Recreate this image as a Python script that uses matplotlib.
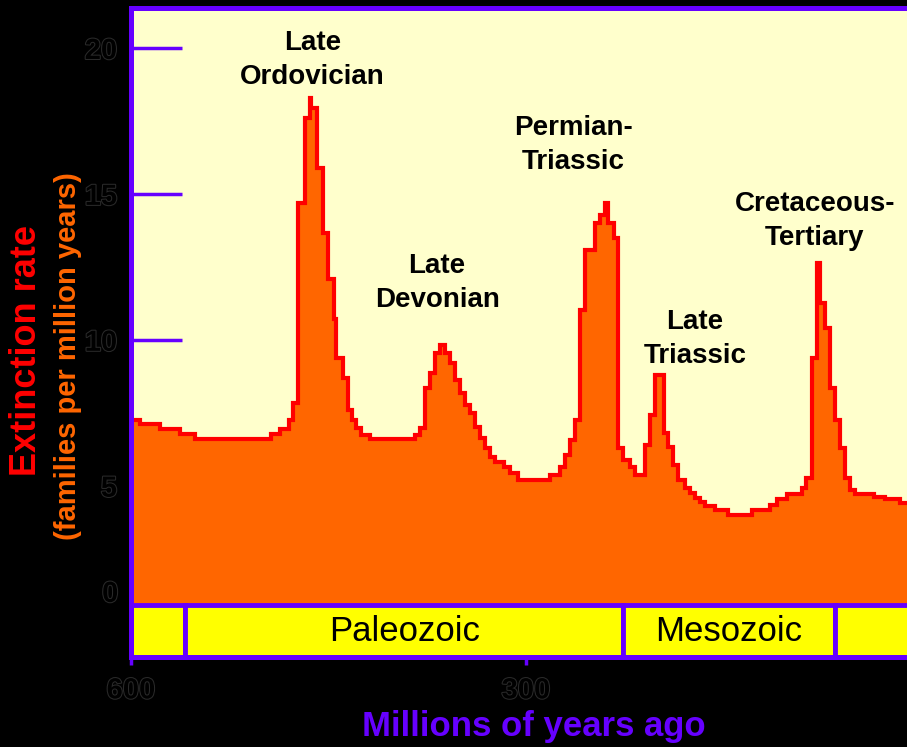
import matplotlib.pyplot as plt
import matplotlib.patheffects as pe
from matplotlib.patches import Rectangle

# step edges (millions of years ago) and extinction rate for each step
ages = [600, 593, 578, 563, 551, 494, 487, 480, 477, 473, 468, 464, 463, 459,
        454, 450, 446, 444, 439, 435, 432, 429, 425, 418.5, 384, 380.5, 377,
        373, 369, 365, 361.5, 358, 354, 350, 346, 342.5, 339, 335, 331, 327,
        323.5, 317, 312, 306, 282, 274, 270, 266.5, 263, 259, 255, 247.5, 244,
        240, 237.5, 233.5, 230, 226, 221, 217, 209.5, 206, 202, 195.5, 192,
        188, 184.5, 179, 175.5, 171.5, 168, 164, 156.5, 146.5, 128.5, 114.5,
        109.5, 102, 90.5, 87, 83, 79, 76.5, 73, 69, 65.5, 61.5, 57.5, 54, 50,
        36, 27.5, 16, 0]
rates = [7.25, 7.11, 6.94, 6.77, 6.60, 6.77, 6.94, 7.25, 7.83, 14.68, 17.6,
         18.28, 17.94, 15.88, 13.65, 12.1, 10.7, 9.37, 8.69, 7.6, 7.25, 6.97,
         6.74, 6.60, 6.74, 6.97, 8.34, 8.86, 9.55, 9.82, 9.55, 9.2, 8.62, 8.17,
         7.77, 7.49, 7.01, 6.63, 6.29, 5.99, 5.81, 5.64, 5.43, 5.20, 5.37,
         5.64, 6.05, 6.57, 7.25, 11.02, 13.08, 14.0, 14.28, 14.68, 14.0, 13.49,
         6.29, 5.88, 5.64, 5.37, 6.39, 7.42, 8.79, 6.8, 6.33, 5.71, 5.2, 4.92,
         4.75, 4.58, 4.44, 4.30, 4.17, 4.0, 4.17, 4.34, 4.54, 4.71, 4.92, 5.26,
         9.37, 12.63, 11.26, 10.4, 8.34, 7.25, 6.29, 5.26, 4.85, 4.71, 4.61,
         4.54, 4.4]

events = ["Late\nOrdovician", "Late\nDevonian", "Permian-\nTriassic",
          "Late\nTriassic", "Cretaceous-\nTertiary"]
event_age = [462, 367.5, 264, 171.5, 80.5]
event_y = [19.6, 11.93, 16.68, 10.03, 14.07]

era_bounds = [600, 559, 226, 65.5, 0]
era_names = ["", "Paleozoic", "Mesozoic", ""]

yticks = [5, 10, 15, 20]
xticks = [600, 300, 0]

PURPLE = "#6600ff"
CREAM = "#ffffcc"
ORANGE = "#ff6600"

plt.rcParams["font.family"] = ["Liberation Sans", "DejaVu Sans"]

fig = plt.figure(figsize=(9.07, 7.47), dpi=100, facecolor="black")
ax = fig.add_axes([0.1444, 0.1205, 0.871, 0.8688])
ax.set_facecolor(CREAM)

ybot, ytop = -0.87, 21.37
band_top = 0.91

y_steps = rates + [rates[-1]]
ax.fill_between(ages, y_steps, ybot, step="post", color=ORANGE, lw=0, zorder=2)
ax.plot(ages, y_steps, drawstyle="steps-post", color="#ff0000", lw=3,
        solid_joinstyle="miter", zorder=3)

# geological era band along the bottom
for i, name in enumerate(era_names):
    a0, a1 = era_bounds[i], era_bounds[i + 1]
    ax.add_patch(Rectangle((a1, ybot), a0 - a1, band_top - ybot,
                           facecolor="#ffff00", edgecolor=PURPLE, lw=3.5,
                           zorder=4))
    if name:
        ax.text((a0 + a1) / 2, (band_top + ybot) / 2, name, ha="center",
                va="center", fontsize=25, color="black", zorder=5)

for lab, a, y in zip(events, event_age, event_y):
    ax.text(a, y, lab, ha="center", va="center", fontsize=20,
            fontweight="bold", color="black", linespacing=1.4, zorder=6)

ax.set_xlim(600, 0)
ax.set_ylim(ybot, ytop)

outline = [pe.withStroke(linewidth=1.5, foreground="#2a2a2a")]

ax.set_yticks(yticks)
ax.set_yticklabels([str(v) for v in yticks])
ax.tick_params(axis="y", direction="in", length=37, width=2.5, color=PURPLE,
               pad=10, labelsize=21, labelcolor="black")
ax.set_xticks(xticks)
ax.set_xticklabels([str(v) for v in xticks])
ax.tick_params(axis="x", direction="out", length=6, width=2.5, color=PURPLE,
               pad=8, labelsize=21, labelcolor="black")
for t in ax.get_yticklabels() + ax.get_xticklabels():
    t.set_fontweight("bold")
    t.set_path_effects(outline)
ax.text(-0.016, 1.29, "0", transform=ax.get_yaxis_transform(), ha="right",
        va="center", fontsize=21, fontweight="bold", color="black",
        path_effects=outline)

for s in ax.spines.values():
    s.set_color(PURPLE)
    s.set_linewidth(3.6)
    s.set_zorder(7)

fig.text(0.029, 0.531, "Extinction rate", rotation=90, ha="center",
         va="center", fontsize=26, fontweight="bold", color="#ff0000")
fig.text(0.075, 0.523, "(families per million years)", rotation=90,
         ha="center", va="center", fontsize=21, fontweight="bold",
         color=ORANGE)
fig.text(0.588, 0.027, "Millions of years ago", ha="center", va="center",
         fontsize=25, fontweight="bold", color=PURPLE)

fig.savefig("out.png", dpi=100, facecolor="black")
